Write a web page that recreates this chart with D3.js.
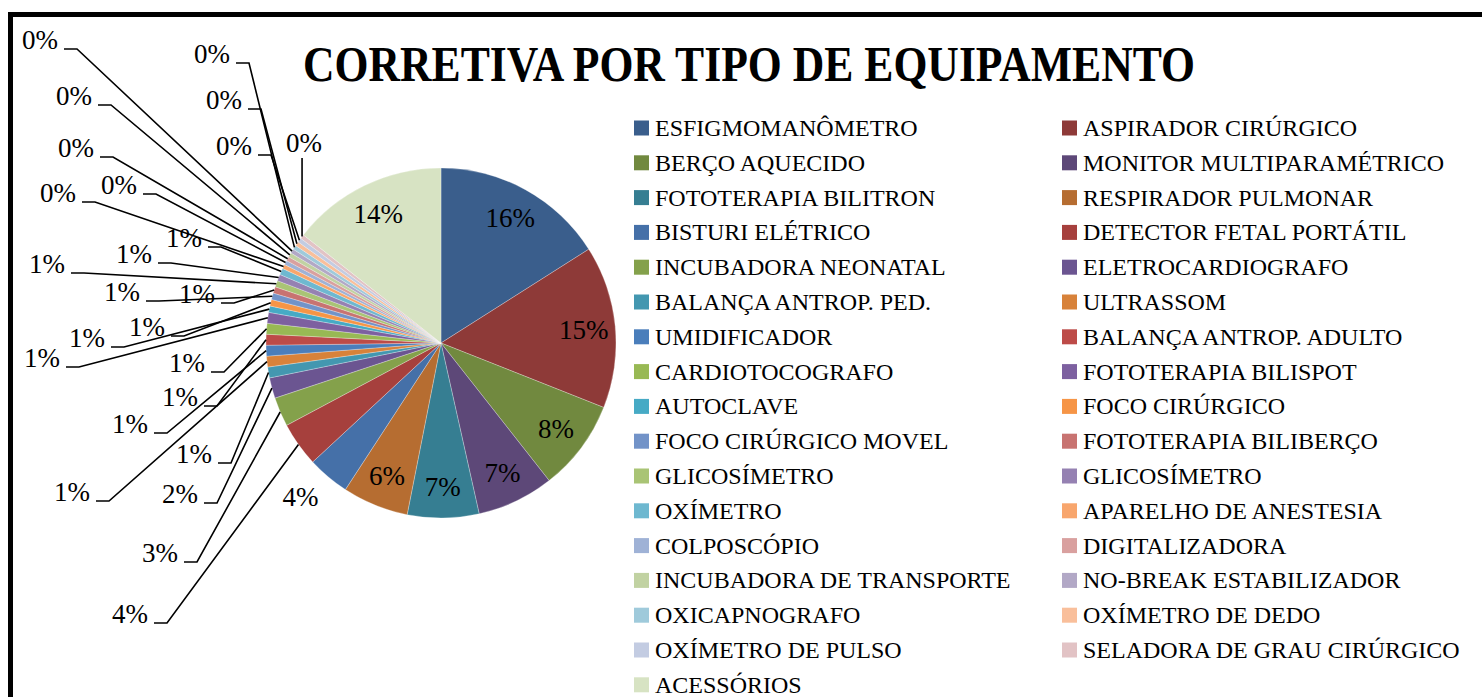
<!DOCTYPE html>
<html><head><meta charset="utf-8">
<script src="https://cdn.jsdelivr.net/npm/d3@7"></script>
<style>body{margin:0;background:#fff;} svg{display:block;}</style>
</head><body>
<svg id="chart" width="1482" height="697"></svg>
<script>
const titleText = "CORRETIVA POR TIPO DE EQUIPAMENTO";
const categories = [
  "ESFIGMOMANÔMETRO","ASPIRADOR CIRÚRGICO","BERÇO AQUECIDO","MONITOR MULTIPARAMÉTRICO",
  "FOTOTERAPIA BILITRON","RESPIRADOR PULMONAR","BISTURI ELÉTRICO","DETECTOR FETAL PORTÁTIL",
  "INCUBADORA NEONATAL","ELETROCARDIOGRAFO","BALANÇA ANTROP. PED.","ULTRASSOM",
  "UMIDIFICADOR","BALANÇA ANTROP. ADULTO","CARDIOTOCOGRAFO","FOTOTERAPIA BILISPOT",
  "AUTOCLAVE","FOCO CIRÚRGICO","FOCO CIRÚRGICO MOVEL","FOTOTERAPIA BILIBERÇO",
  "GLICOSÍMETRO","GLICOSÍMETRO","OXÍMETRO","APARELHO DE ANESTESIA",
  "COLPOSCÓPIO","DIGITALIZADORA","INCUBADORA DE TRANSPORTE","NO-BREAK ESTABILIZADOR",
  "OXICAPNOGRAFO","OXÍMETRO DE DEDO","OXÍMETRO DE PULSO","SELADORA DE GRAU CIRÚRGICO",
  "ACESSÓRIOS"
];
// estimated shares (%)
const values = [
  16.0, 15.0, 8.4, 7.1,
  6.6, 6.1, 3.9, 4.1,
  2.7, 1.9, 1.0, 1.0,
  1.0, 1.0, 1.0, 1.0,
  0.6, 0.6, 0.6, 0.6,
  0.6, 0.6, 0.6, 0.4,
  0.4, 0.4, 0.4, 0.4,
  0.4, 0.4, 0.4, 0.4,
  14.4
];
const colors = [
  "#3A5E8C","#8E3A38","#71893F","#5D4878","#367E92","#B66D31",
  "#4570A8","#A6403D","#84A14B","#6B5591","#4397B0","#D8823A",
  "#4A7EBB","#BD4B48","#98B954","#7D60A0","#46AAC5","#F69546",
  "#7293C8","#C87371","#A9C475","#9581B2","#6EB8D0","#F8A66D",
  "#9FB2D6","#D9A09F","#C1D2A2","#B2A8C6","#9FCADB","#F9BF9B",
  "#C3CCE2","#E2C3C5","#D7E3C3"
];
// manual placement of outside labels (label index, text right x, baseline y)
const outerLabelAnchors = [
  [7,148,623],[8,178,562],[9,198,503],[10,212,463],[11,90,501],[12,148,433],
  [13,198,406],[14,205,372],[15,60,367],[16,105,347],[17,165,336],[18,140,301],
  [19,215,303],[20,65,273],[21,152,263],[22,202,247],[23,76,202],[24,137,194],
  [25,94,157],[26,92,105],[27,58,49],[28,230,63],[29,242,109],[30,252,155]
];

const svg = d3.select("#chart");
const W = 1482, H = 697;
svg.append("rect").attr("width", W).attr("height", H).attr("fill", "#fff");
svg.append("rect").attr("x", 10.5).attr("y", 14.5).attr("width", W + 20).attr("height", H + 20)
  .attr("fill", "none").attr("stroke", "#000").attr("stroke-width", 5);

const FONT = "'Liberation Serif', 'Times New Roman', serif";

svg.append("text").attr("x", 303).attr("y", 81)
  .attr("font-family", FONT).attr("font-weight", "bold").attr("font-size", 50)
  .attr("textLength", 892).attr("lengthAdjust", "spacingAndGlyphs")
  .attr("fill", "#000").text(titleText);

const cx = 441, cy = 343, R = 175;
const data = categories.map((c, i) => ({ c, v: values[i], i }));
const total = d3.sum(values);
const pct = d => Math.round(d.v / total * 100) + "%";
const pie = d3.pie().value(d => d.v).sort(null).startAngle(0).endAngle(2 * Math.PI);
const arcs = pie(data);
const arc = d3.arc().innerRadius(0).outerRadius(R);
const pt = (a, r) => [cx + r * Math.sin(a), cy - r * Math.cos(a)];

const g = svg.append("g");
g.selectAll("path.slice").data(arcs).enter().append("path")
  .attr("class", "slice")
  .attr("transform", `translate(${cx},${cy})`)
  .attr("d", arc)
  .attr("fill", d => colors[d.data.i])
  .attr("stroke", "rgba(255,255,255,0.45)").attr("stroke-width", 0.6);

const mid = d => (d.startAngle + d.endAngle) / 2;
const LF = 27;
// inside labels
arcs.filter(d => d.data.v / total >= 0.05).forEach(d => {
  const p = pt(mid(d), R * 0.82);
  svg.append("text").attr("x", p[0]).attr("y", p[1]).attr("dy", "0.35em")
    .attr("text-anchor", "middle").attr("font-family", FONT).attr("font-size", LF)
    .attr("fill", "#000").text(pct(d.data));
});
// bisturi label just outside
{
  const d = arcs[6];
  const p = pt(mid(d) + 0.04, R * 1.19);
  svg.append("text").attr("x", p[0]).attr("y", p[1]).attr("dy", "0.35em")
    .attr("text-anchor", "middle").attr("font-family", FONT).attr("font-size", LF)
    .attr("fill", "#000").text(pct(d.data));
}
// leader labels
const lg = svg.append("g").attr("fill", "none").attr("stroke", "#000").attr("stroke-width", 1.6);
outerLabelAnchors.forEach(([idx, tx, ty]) => {
  const d = arcs[idx];
  const e = pt(mid(d), R);
  lg.append("path").attr("d", `M${tx + 6},${ty} L${tx + 19},${ty} L${e[0]},${e[1]}`);
  svg.append("text").attr("x", tx).attr("y", ty).attr("text-anchor", "end")
    .attr("font-family", FONT).attr("font-size", LF).attr("fill", "#000").text(pct(d.data));
});
// last tiny slice: label straight above
{
  const d = arcs[31];
  const e = pt(mid(d), R);
  lg.append("path").attr("d", `M${e[0]},158 L${e[0]},${e[1]}`);
  svg.append("text").attr("x", e[0] + 2).attr("y", 152).attr("text-anchor", "middle")
    .attr("font-family", FONT).attr("font-size", LF).attr("fill", "#000").text(pct(d.data));
}

// legend
const legX = [634, 1062], legY0 = 128, legDy = 34.8;
const leg = svg.append("g");
data.forEach((d, i) => {
  const col = i % 2, row = Math.floor(i / 2);
  const y = legY0 + row * legDy;
  leg.append("rect").attr("x", legX[col]).attr("y", y - 7.5).attr("width", 15).attr("height", 15)
    .attr("fill", colors[i]);
  leg.append("text").attr("x", legX[col] + 21).attr("y", y + 8)
    .attr("font-family", FONT).attr("font-size", 24).attr("fill", "#000").text(d.c);
});
</script>
</body></html>
